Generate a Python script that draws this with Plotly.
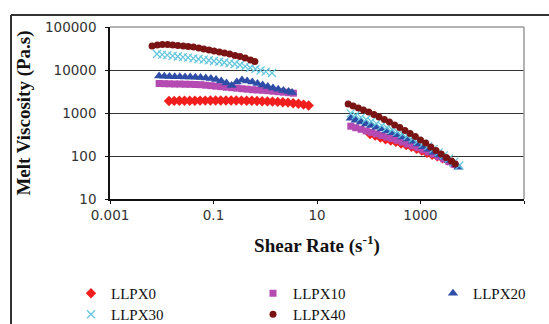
import plotly.graph_objects as go

# ---------------- data ----------------
series_names = ["LLPX0", "LLPX10", "LLPX20", "LLPX30", "LLPX40"]

# low shear-rate segment (rotational rheometer)
llpx0_x_low = [0.0138, 0.0174, 0.0219, 0.0275, 0.0347, 0.0437, 0.055, 0.0692, 0.0871, 0.11, 0.138, 0.174, 0.219, 0.275,
               0.347, 0.437, 0.55, 0.692, 0.871, 1.1, 1.38, 1.74, 2.19, 2.75, 3.47, 4.37, 5.5, 6.9]
llpx0_y_low = [1901, 1910, 1922, 1922, 1932, 1932, 1941, 1941, 1954, 1954, 1954, 1954, 1954, 1954,
               1941, 1932, 1922, 1901, 1879, 1862, 1841, 1811, 1782, 1746, 1690, 1637, 1567, 1493]

llpx10_x_low = [0.0089, 0.0112, 0.0141, 0.0178, 0.0224, 0.0282, 0.0355, 0.0447, 0.0562, 0.0708, 0.0891, 0.112, 0.141,
                0.178, 0.224, 0.282, 0.355, 0.447, 0.562, 0.708, 0.891, 1.12, 1.41, 1.78, 2.24, 2.82, 3.5]
llpx10_y_low = [4850, 4800, 4770, 4720, 4720, 4670, 4650, 4600, 4550, 4430, 4320, 4200, 4090,
                3980, 3880, 3780, 3670, 3580, 3480, 3430, 3370, 3300, 3210, 3130, 3050, 2970, 2890]

llpx20_x_low = [0.0089, 0.0112, 0.0141, 0.0178, 0.0224, 0.0282, 0.0355, 0.0447, 0.0562, 0.0708, 0.0891, 0.112, 0.141,
                0.178, 0.224, 0.282, 0.355, 0.447, 0.562, 0.708, 0.891, 1.12, 1.41, 1.78, 2.24, 2.82, 3.3]
llpx20_y_low = [7250, 7130, 7060, 6990, 6950, 6870, 6870, 6800, 6700, 6520, 6350, 6010, 5550,
                4990, 4360, 5260, 5850, 5550, 5260, 4850, 4480, 4130, 3810, 3560, 3340, 3160, 3000]

llpx30_x_low = [0.0081, 0.0102, 0.0128, 0.0162, 0.0204, 0.0257, 0.0323, 0.0407, 0.0513, 0.0646, 0.0813, 0.102,
                0.129, 0.162, 0.204, 0.257, 0.324, 0.408, 0.513, 0.646, 0.813, 1.02, 1.35]
llpx30_y_low = [23560, 22800, 22090, 21380, 20610, 19950, 19410, 18700, 18030, 17460, 16830, 16190,
                15520, 14930, 14390, 13800, 13060, 12190, 11300, 10550, 9840, 9180, 8510]

llpx40_x_low = [0.0065, 0.0082, 0.0103, 0.013, 0.0163, 0.0205, 0.026, 0.0325, 0.041, 0.052, 0.065, 0.082, 0.103,
                0.13, 0.163, 0.205, 0.26, 0.325, 0.41, 0.52, 0.63]
llpx40_y_low = [36150, 38150, 39370, 39180, 38150, 37150, 36150, 35230, 34280, 32510, 30790, 29180, 27670,
                26240, 24850, 23560, 21740, 20610, 19010, 17100, 15780]

# high shear-rate segment (capillary rheometer)
llpx0_x_high = [106, 133, 168, 211, 266, 335, 422, 531, 668, 841, 1059, 1333, 1679, 2113, 2661, 3350, 4217]
llpx0_y_high = [325, 297, 269, 246, 229, 213, 196, 179, 164, 148, 133, 118, 107, 98, 89, 79, 69]

llpx10_x_high = [45, 56, 71, 89, 112, 141, 178, 224, 282, 355, 447, 562, 708, 891, 1122, 1413, 1778, 2239, 2818,
                 3548, 4467]
llpx10_y_high = [493, 455, 418, 383, 354, 326, 300, 275, 254, 232, 211, 191, 172, 156, 139, 125, 111, 97, 86, 74, 64]

llpx20_x_high = [45, 56, 71, 89, 112, 141, 178, 224, 282, 355, 447, 562, 708, 891, 1122, 1413, 1778, 2239, 2818,
                 3548, 4467, 5400]
llpx20_y_high = [753, 680, 614, 558, 512, 465, 422, 383, 348, 311, 277, 249, 219, 190, 165, 144, 123, 106, 93, 79,
                 65, 55]

llpx30_x_high = [45, 56, 71, 89, 112, 141, 178, 224, 282, 355, 447, 562, 708, 891, 1122, 1413, 1778, 2239, 2818,
                 3548, 4467, 5623]
llpx30_y_high = [984, 885, 790, 706, 634, 567, 507, 453, 407, 363, 325, 292, 255, 223, 194, 169, 144, 121, 103, 87,
                 73, 60]

llpx40_x_high = [40, 50, 63, 79, 100, 126, 158, 200, 251, 316, 398, 501, 631, 794, 1000, 1259, 1585, 1995, 2512,
                 3162, 3981, 4700]
llpx40_y_high = [1618, 1455, 1307, 1175, 1055, 923, 807, 706, 618, 526, 460, 392, 334, 284, 235, 200, 162, 134, 111,
                 92, 77, 65]

x_tick_vals = [0.001, 0.1, 10, 1000, 100000]
x_tick_text = ["0.001", "0.1", "10", "1000", "100000"]
y_tick_vals = [10, 100, 1000, 10000, 100000]
y_tick_text = ["10", "100", "1000", "10000", "100000"]

# ---------------- styles ----------------
styles = {
    "LLPX0": dict(symbol="diamond", color="#F21E1E", size=8, line=dict(width=0)),
    "LLPX10": dict(symbol="square", color="#B54AB2", size=7, line=dict(width=0)),
    "LLPX20": dict(symbol="triangle-up", color="#2E4DA6", size=9, line=dict(width=0)),
    "LLPX30": dict(symbol="x-thin", color="#62C6DE", size=8, line=dict(width=1.2, color="#62C6DE")),
    "LLPX40": dict(symbol="circle", color="#7A1414", size=7, line=dict(width=0)),
}
# legend grid: 3 columns x 2 rows, one legend box per entry
legend_of = {"LLPX0": "legend2", "LLPX10": "legend3", "LLPX20": "legend4", "LLPX30": "legend5", "LLPX40": "legend6"}

data = {
    "LLPX0": (llpx0_x_low + llpx0_x_high, llpx0_y_low + llpx0_y_high),
    "LLPX10": (llpx10_x_low + llpx10_x_high, llpx10_y_low + llpx10_y_high),
    "LLPX20": (llpx20_x_low + llpx20_x_high, llpx20_y_low + llpx20_y_high),
    "LLPX30": (llpx30_x_low + llpx30_x_high, llpx30_y_low + llpx30_y_high),
    "LLPX40": (llpx40_x_low + llpx40_x_high, llpx40_y_low + llpx40_y_high),
}

fig = go.Figure()
for name in series_names:
    xs, ys = data[name]
    fig.add_trace(go.Scatter(x=xs, y=ys, mode="markers", name=name, marker=styles[name],
                             legend=legend_of[name], showlegend=True))

W, H = 549, 324
ml, mr, mt, mb = 110, 25, 27, 125
pw, ph = W - ml - mr, H - mt - mb


def px_x(p):
    return (p - ml) / pw


def px_y(p):
    return (H - mb - p) / ph


legend_font = dict(family="Liberation Serif", size=15, color="#111")


def legend_box(xpx, ypx):
    return dict(orientation="v", xanchor="left", yanchor="top", x=px_x(xpx), y=px_y(ypx),
                font=legend_font, bgcolor="rgba(0,0,0,0)", tracegroupgap=0, visible=True)


row1, row2 = 277, 298
col1, col2, col3 = 71, 253, 433

fig.update_layout(
    width=W, height=H,
    margin=dict(l=ml, r=mr, t=mt, b=mb, autoexpand=False),
    paper_bgcolor="white", plot_bgcolor="white",
    font=dict(family="DejaVu Sans", color="#222"),
    showlegend=True,
    legend2=legend_box(col1, row1),
    legend3=legend_box(col2, row1),
    legend4=legend_box(col3, row1),
    legend5=legend_box(col1, row2),
    legend6=legend_box(col2, row2),
    xaxis=dict(
        type="log", range=[-3, 5], tickvals=x_tick_vals, ticktext=x_tick_text,
        showgrid=False, zeroline=False,
        showline=True, linecolor="#111", linewidth=1.5,
        ticks="outside", ticklen=3, tickcolor="#111", tickwidth=1,
        tickfont=dict(family="DejaVu Sans", size=13.5, color="#333"),
        title=dict(text="<b>Shear Rate (s<sup>-1</sup>)</b>", standoff=17,
                   font=dict(family="Liberation Serif", size=19, color="#111")),
    ),
    yaxis=dict(
        type="log", range=[1, 5], tickvals=y_tick_vals, ticktext=y_tick_text,
        showgrid=True, gridcolor="#333", gridwidth=1.3, zeroline=False,
        showline=True, linecolor="#111", linewidth=1.5,
        ticks="outside", ticklen=3, tickcolor="#111", tickwidth=1,
        ticklabelstandoff=6,
        tickfont=dict(family="DejaVu Sans", size=13.5, color="#333"),
        title=dict(text="<b>Melt Viscosity (Pa.s)</b>", standoff=9,
                   font=dict(family="Liberation Serif", size=19, color="#111")),
    ),
)

shapes = [
    # plot area top and right border (gray)
    dict(type="line", xref="paper", yref="paper", x0=0, x1=1, y0=1, y1=1, line=dict(color="#9a9a9a", width=1.5)),
    dict(type="line", xref="paper", yref="paper", x0=1, x1=1, y0=0, y1=1, line=dict(color="#9a9a9a", width=1.5)),
    # outer chart frame
    dict(type="line", xref="paper", yref="paper", x0=px_x(11), x1=px_x(551), y0=px_y(15), y1=px_y(15),
         line=dict(color="#333", width=2)),
    dict(type="line", xref="paper", yref="paper", x0=px_x(11), x1=px_x(11), y0=px_y(15), y1=px_y(330),
         line=dict(color="#333", width=2)),
]
fig.update_layout(shapes=shapes)

fig.write_html("out.html", config={"displayModeBar": False},
               post_script="document.body.style.margin='0px';document.body.style.overflow='hidden';")
